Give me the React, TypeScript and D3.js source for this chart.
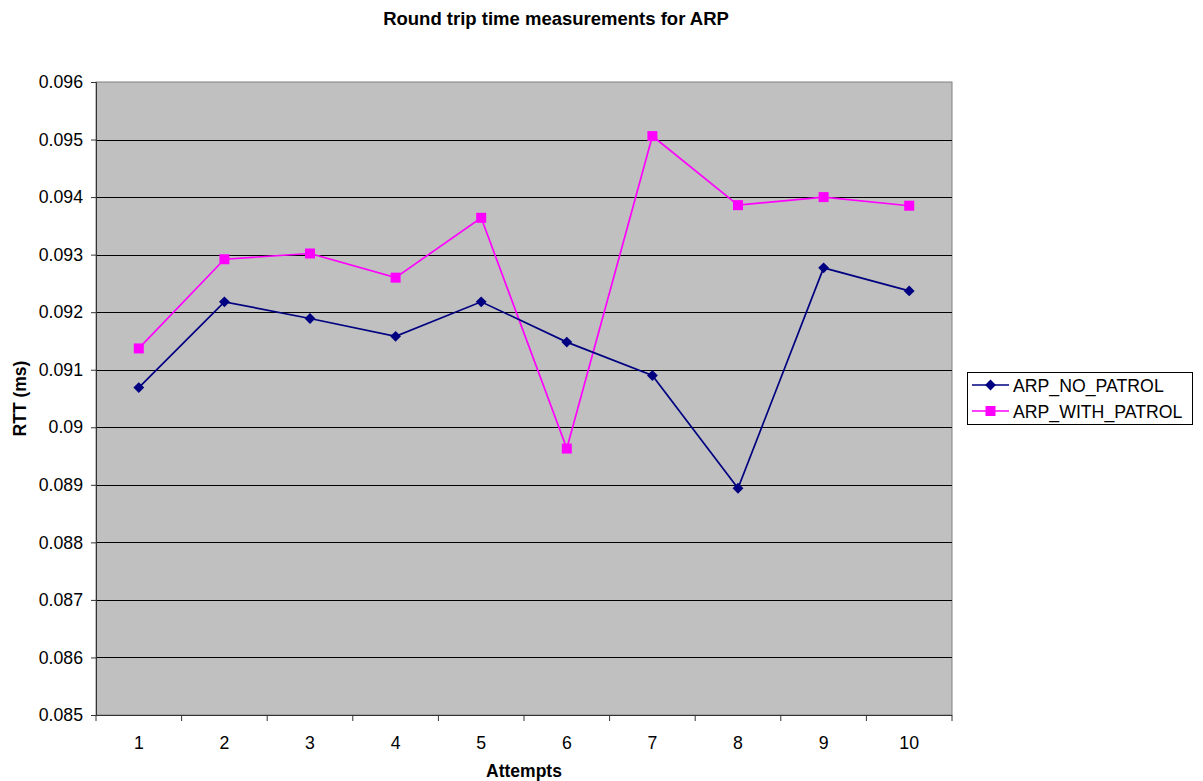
import { useEffect, useRef } from 'react';
import * as d3 from 'd3';

const attempts = ['1', '2', '3', '4', '5', '6', '7', '8', '9', '10'];
const noPatrol = [0.09069, 0.09218, 0.09189, 0.09158, 0.09218, 0.09148, 0.0909, 0.08894, 0.09277, 0.09237];
const withPatrol = [0.09137, 0.09292, 0.09302, 0.0926, 0.09364, 0.08963, 0.09506, 0.09386, 0.094, 0.09385];
const yTicks = [0.085, 0.086, 0.087, 0.088, 0.089, 0.09, 0.091, 0.092, 0.093, 0.094, 0.095, 0.096];

const font = '"Liberation Sans", Arial, sans-serif';

export default function App() {
  const svgRef = useRef<SVGSVGElement>(null);

  useEffect(() => {
    if (!svgRef.current) return;
    const svg = d3.select(svgRef.current);
    svg.selectAll('*').remove();

    const left = 96, right = 952, top = 82, bottom = 715;

    const x = d3.scaleBand().domain(attempts).range([left, right]);
    const y = d3.scaleLinear().domain([0.085, 0.096]).range([bottom, top]);

    svg.append('rect')
      .attr('x', left).attr('y', top)
      .attr('width', right - left).attr('height', bottom - top)
      .attr('fill', '#c0c0c0').attr('stroke', '#808080').attr('stroke-width', 1);

    // gridlines
    svg.append('g').selectAll('line')
      .data(yTicks.slice(1, -1))
      .join('line')
      .attr('x1', left).attr('x2', right)
      .attr('y1', d => Math.round(y(d)) + 0.5).attr('y2', d => Math.round(y(d)) + 0.5)
      .attr('stroke', '#000').attr('stroke-width', 1);

    // y axis
    const yAxis = d3.axisLeft(y).tickValues(yTicks).tickSize(5).tickPadding(8)
      .tickFormat(d => String(+(+d).toFixed(3)));
    const gy = svg.append('g').attr('transform', `translate(${left},0)`).call(yAxis);
    gy.selectAll('text').attr('font-size', 17.7).attr('font-family', font).attr('fill', '#000');
    gy.selectAll('line,path').attr('stroke', '#333');

    // x axis
    const gx = svg.append('g').attr('transform', `translate(0,${bottom})`);
    gx.append('line').attr('x1', left).attr('x2', right).attr('y1', 0.5).attr('y2', 0.5).attr('stroke', '#333');
    const bounds = attempts.map(a => x(a)!).concat([right]);
    gx.selectAll('line.tick').data(bounds).join('line')
      .attr('class', 'tick')
      .attr('x1', d => d).attr('x2', d => d).attr('y1', 0).attr('y2', 6)
      .attr('stroke', '#333');
    gx.selectAll('text').data(attempts).join('text')
      .attr('x', d => x(d)! + x.bandwidth() / 2).attr('y', 34)
      .attr('text-anchor', 'middle').attr('font-size', 17.7).attr('font-family', font)
      .text(d => d);

    const cx = (i: number) => x(attempts[i])! + x.bandwidth() / 2;
    const line = d3.line<number>().x((_, i) => cx(i)).y(d => y(d));

    svg.append('path').datum(withPatrol).attr('d', line)
      .attr('fill', 'none').attr('stroke', '#ff00ff').attr('stroke-width', 1.7);
    svg.append('path').datum(noPatrol).attr('d', line)
      .attr('fill', 'none').attr('stroke', '#000080').attr('stroke-width', 1.7);

    svg.append('g').selectAll('rect').data(withPatrol).join('rect')
      .attr('x', (_, i) => cx(i) - 5).attr('y', d => y(d) - 5)
      .attr('width', 10).attr('height', 10).attr('fill', '#ff00ff');
    const diamond = d3.symbol(d3.symbolDiamond2, 75);
    svg.append('g').selectAll('path').data(noPatrol).join('path')
      .attr('d', diamond)
      .attr('transform', (d, i) => `translate(${cx(i)},${y(d)})`)
      .attr('fill', '#000080');

    // titles
    svg.append('text').attr('x', 556).attr('y', 25).attr('text-anchor', 'middle')
      .attr('font-size', 18.5).attr('font-weight', 'bold').attr('font-family', font)
      .text('Round trip time measurements for ARP');
    svg.append('text').attr('x', (left + right) / 2).attr('y', 777).attr('text-anchor', 'middle')
      .attr('font-size', 17.5).attr('font-weight', 'bold').attr('font-family', font)
      .text('Attempts');
    svg.append('text').attr('transform', `translate(26,${(top + bottom) / 2}) rotate(-90)`)
      .attr('text-anchor', 'middle')
      .attr('font-size', 17.5).attr('font-weight', 'bold').attr('font-family', font)
      .text('RTT (ms)');

    // legend
    const lg = svg.append('g');
    lg.append('rect').attr('x', 967.5).attr('y', 372.5).attr('width', 225).attr('height', 52)
      .attr('fill', '#fff').attr('stroke', '#000');
    const items = [
      { name: 'ARP_NO_PATROL', color: '#000080', shape: 'diamond' },
      { name: 'ARP_WITH_PATROL', color: '#ff00ff', shape: 'square' },
    ];
    items.forEach((it, i) => {
      const ly = 385 + i * 26;
      lg.append('line').attr('x1', 972).attr('x2', 1009).attr('y1', ly).attr('y2', ly)
        .attr('stroke', it.color).attr('stroke-width', 1.7);
      if (it.shape === 'square') {
        lg.append('rect').attr('x', 985.5).attr('y', ly - 5).attr('width', 10).attr('height', 10).attr('fill', it.color);
      } else {
        lg.append('path').attr('d', diamond).attr('transform', `translate(990.5,${ly})`).attr('fill', it.color);
      }
      lg.append('text').attr('x', 1013).attr('y', ly + 6.5)
        .attr('font-size', 17.7).attr('font-family', font).text(it.name);
    });
  }, []);

  return <svg ref={svgRef} width={1203} height={781} style={{ position: 'absolute', left: 0, top: 0, background: '#fff' }} />;
}
